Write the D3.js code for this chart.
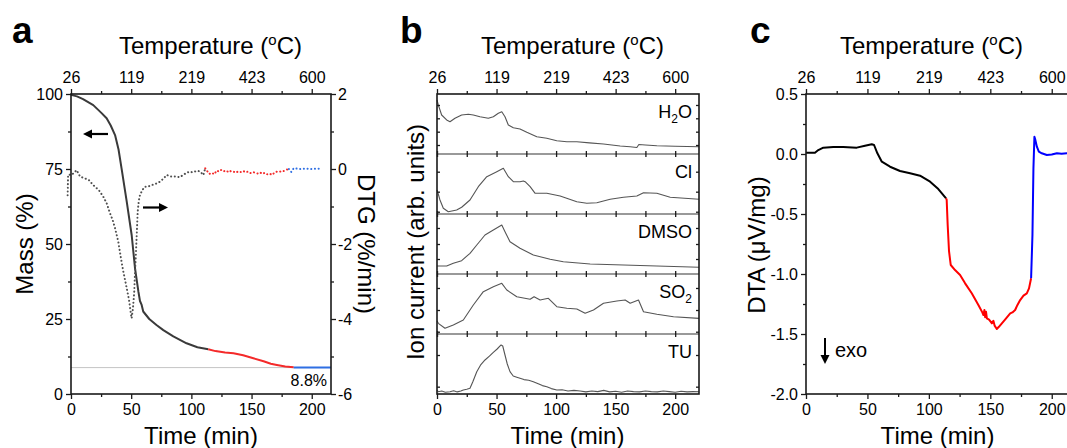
<!DOCTYPE html>
<html><head><meta charset="utf-8">
<script src="https://cdn.jsdelivr.net/npm/d3@7"></script>
<style>
body{margin:0;background:#fff}
svg{display:block}
text{font-family:"Liberation Sans",Arial,Helvetica,sans-serif;fill:#000}
</style>
</head><body>
<svg id="chart" width="1067" height="448"></svg>
<script>
// ---------------- DATA ----------------
const timeTicks = [0, 50, 100, 150, 200];
const timeMinor = [25, 75, 125, 175];
const tempLabels = ["26", "119", "219", "423", "600"];

const massTicks = [0, 25, 50, 75, 100];
const massMinor = [12.5, 37.5, 62.5, 87.5];
const dtgTicks = [-6, -4, -2, 0, 2];
const dtgMinor = [-5, -3, -1, 1];
const dtaTicks = [-2.0, -1.5, -1.0, -0.5, 0.0, 0.5];
const dtaMinor = [-1.75, -1.25, -0.75, -0.25, 0.25];

// Panel a: mass (%)
const massBlackT = [0, 5, 10, 18.5, 25, 29.6, 33, 36.6, 39.5, 42, 46.3, 50.4, 53.2, 56, 57.3, 58.7, 60, 65, 71, 76.7, 85, 96, 105, 114];
const massBlackV = [99.7, 99.2, 98.3, 96.3, 93.8, 91.9, 89.5, 86.3, 81.5, 75.2, 64.1, 53, 41.9, 34.1, 31, 29.7, 27.5, 25, 23, 21.3, 19.2, 16.9, 15.6, 14.9];
const massRedT = [114, 120, 128, 135, 143, 151.5, 160, 166, 171, 178, 185];
const massRedV = [14.9, 14.3, 13.8, 13.6, 12.9, 11.9, 10.9, 10.1, 9.7, 9.2, 8.9];
const massBlueT = [185, 200, 216];
const massBlueV = [8.8, 8.8, 8.8];
const residue = 8.8;

// Panel a: DTG (%/min)
const dtgGrayT = [-2.8, -2.4, 0.5, 2.5, 4.7, 7.5, 11.6, 15, 18.5, 21, 24, 27, 29.6, 32.4, 34.5, 36.6, 39.3, 41.5, 43.5, 46.3, 48.2, 49.9, 50.4, 51.5, 52.5, 53.2, 54, 54.6, 55.4, 56.3, 57.3, 59.5, 61.5, 64, 67, 70, 73.9, 77, 79.5, 83, 87.8, 90, 93.3, 96, 98.9, 101, 104.4, 107, 110, 111.5];
const dtgGrayV = [-0.7, -0.15, -0.16, -0.1, -0.03, -0.2, -0.25, -0.3, -0.43, -0.5, -0.6, -0.75, -0.91, -1.18, -1.35, -1.58, -1.94, -2.38, -2.74, -3.18, -3.49, -3.89, -3.98, -3.7, -3.3, -2.74, -2.2, -1.76, -1.14, -0.85, -0.69, -0.55, -0.47, -0.47, -0.43, -0.4, -0.34, -0.25, -0.16, -0.2, -0.2, -0.22, -0.16, -0.1, -0.07, -0.09, -0.05, -0.06, -0.16, 0.02];
const dtgRedT = [111.5, 113, 115, 117, 119, 121, 123, 125, 127, 129, 131, 133, 135, 137, 139, 141, 143, 145, 147, 149, 151, 153, 155, 157, 159, 161, 163, 165, 167, 169, 171, 173, 175, 177, 179, 181];
const dtgRedV = [0.02, -0.05, -0.13, -0.1, -0.14, -0.04, -0.07, -0.02, -0.06, -0.04, -0.09, -0.05, -0.07, -0.1, -0.06, -0.08, -0.05, -0.09, -0.07, -0.11, -0.08, -0.1, -0.12, -0.09, -0.13, -0.1, -0.14, -0.12, -0.16, -0.1, -0.07, -0.06, -0.08, -0.05, -0.02, 0.0];
const dtgBlueT = [181, 183, 185, 190, 195, 200, 205, 208];
const dtgBlueV = [0.0, -0.08, 0.02, 0.0, 0.01, 0.0, 0.01, 0.0];

// Panel b: ion currents (arb. units, 0-100 per strip)
const ionT_H2O = [0, 1.1, 3.9, 8.1, 10.9, 15.1, 20.7, 26.3, 30.5, 36.1, 43.1, 47.3, 51.5, 54.4, 57.1, 59.9, 64.1, 69.7, 75.4, 83.8, 92.2, 100.6, 109, 117.4, 128, 139.8, 153.8, 162.2, 167.8, 169.5, 175, 184.6, 200, 220];
const ionV_H2O = [90, 81.7, 65, 56.7, 53.8, 59.5, 65, 66.2, 65, 62.2, 59.5, 62.2, 67.8, 70.5, 62.2, 48.3, 43.8, 41.7, 36.2, 28.8, 26.2, 22.2, 20.5, 20.5, 18.5, 16.7, 13.3, 12.2, 10.8, 15.8, 15, 13.8, 12.8, 12.2];
const ionT_Cl = [0, 0.5, 2.5, 5.3, 9.5, 16.5, 20.7, 27.7, 34.7, 41.8, 50.2, 55.7, 59.9, 64.1, 69.7, 72.5, 74, 78.2, 82.4, 92.2, 103.4, 117.4, 125.8, 134.2, 145.4, 156.6, 167.8, 173.4, 184.6, 195.8, 220];
const ionV_Cl = [40, 37.2, 23.3, 9.5, 3.8, 6.7, 11.2, 23.3, 45.5, 62.2, 70.5, 76.2, 62.2, 53.8, 53.8, 55, 53.8, 45.5, 34.5, 34.5, 30, 20.5, 17.8, 18.8, 24.5, 27.8, 30, 35.5, 34.5, 27.8, 24.5];
const ionT_DMSO = [0, 8.1, 13.7, 20.7, 27.7, 33.4, 40.3, 47.3, 54.4, 57.1, 61.3, 69.7, 80.9, 95, 106.1, 128.6, 156.6, 184.6, 220];
const ionV_DMSO = [13.3, 13.3, 17.8, 22.2, 34.5, 48.3, 65, 73.3, 81.7, 70.5, 53.8, 42.8, 31.7, 24.5, 20.5, 16.7, 15, 13.3, 11.2];
const ionT_SO2 = [0, 1.1, 6.7, 13.7, 22.1, 30.5, 38.9, 47.3, 54.4, 58.6, 67, 78.2, 81.5, 86.6, 93.5, 100.6, 109, 117.4, 124.4, 131.4, 139.8, 151, 158, 162.2, 169.2, 173.4, 184.6, 198.6, 220];
const ionV_SO2 = [22, 17.8, 9.5, 15, 23.3, 48.3, 70.5, 78.8, 84.5, 73.3, 62.2, 57.8, 62.2, 56.7, 59.5, 45.5, 42.8, 41.7, 34.5, 40, 51.2, 55, 56.7, 51.2, 56.7, 37.2, 32.8, 28.8, 26];
const ionT_TU = [0, 1.1, 4, 7, 10.9, 14, 17, 20, 22.1, 25, 27.7, 30, 33.4, 36.5, 40.3, 44, 47.3, 50.5, 53.8, 55.2, 57.1, 59, 61.3, 64, 67, 69.7, 73, 77, 80.9, 85, 88.5, 92.2, 96, 100.6, 105, 110, 115, 120.2, 125, 130, 135, 140, 145, 150, 155, 160, 165, 170, 175, 180, 185, 190, 195, 200, 205, 210, 215, 220];
const ionV_TU = [6, 3.8, 5, 3, 3.8, 5.5, 3.5, 5, 6.7, 8, 9.5, 20, 37.2, 48, 56.7, 63, 69.5, 75, 81.7, 80, 65, 50, 37.2, 30, 28, 26.2, 24, 23, 20.5, 17, 14, 12.2, 9, 6.7, 7, 5, 6, 5, 3.5, 5, 4, 6, 3.5, 4.5, 3, 5, 4, 3.5, 5, 4, 3.5, 5, 4, 3, 4.5, 3.5, 4, 3.8];
const ionStripTicks = [[81.7, 59.5, 37.2, 15], [70.5, 37.2, 3.8], [76.7, 50, 25], [76.7, 40, 3.8], [65, 12.2]];

// Panel c: DTA (uV/mg)
const dtaBlackT = [0, 7.3, 10, 14.1, 22.2, 30.3, 41.3, 48, 53.5, 55.4, 58.1, 61.7, 68.4, 76.5, 84.7, 92.8, 101, 107.7, 114];
const dtaBlackV = [0.011, 0.011, 0.033, 0.053, 0.058, 0.058, 0.053, 0.069, 0.081, 0.075, 0.006, -0.064, -0.106, -0.142, -0.161, -0.181, -0.231, -0.292, -0.369];
const dtaRedT = [114, 114.5, 115.3, 116.4, 117.8, 121.3, 125.4, 129.5, 134.9, 140.3, 143.5, 144.4, 145.2, 145.8, 146.5, 147.2, 149, 151.3, 152.5, 153.5, 155.3, 157, 159.4, 162, 166.2, 168, 170.2, 172, 174.3, 177, 179.7, 181.5, 183.2];
const dtaRedV = [-0.369, -0.383, -0.59, -0.81, -0.925, -0.967, -1.008, -1.078, -1.161, -1.258, -1.32, -1.342, -1.3, -1.36, -1.314, -1.369, -1.38, -1.411, -1.39, -1.43, -1.458, -1.44, -1.411, -1.38, -1.328, -1.32, -1.3, -1.26, -1.217, -1.18, -1.161, -1.12, -1.036];
const dtaBlueT = [183.2, 184.3, 185.1, 185.9, 186.6, 187.9, 189.5, 191.9, 196, 200, 204.2, 208, 212.3, 216];
const dtaBlueV = [-1.036, -0.675, -0.119, 0.144, 0.12, 0.061, 0.02, 0.006, -0.008, -0.004, 0.006, 0.002, 0.006, 0.004];

// ---------------- DRAWING ----------------
const svg = d3.select("#chart");
const AX = "#1a1a1a";
const FONT = '"Liberation Sans",Arial,sans-serif';
const zip = (t, v) => t.map((d, i) => [d, v[i]]);

function styleAxis(g, fs) {
  g.select(".domain").remove();
  g.selectAll(".tick line").attr("stroke", AX).attr("stroke-width", 1.3);
  g.selectAll(".tick text").attr("font-size", fs || 16).attr("font-family", FONT).attr("fill", "#000");
}
function addAxis(axisFn, scale, ticks, size, pad, fmt, transform) {
  const g = svg.append("g").attr("transform", transform);
  g.call(axisFn(scale).tickValues(ticks).tickSize(size).tickSizeOuter(0).tickPadding(pad).tickFormat(fmt));
  styleAxis(g);
  return g;
}
const noLab = () => "";
const hyph = f => d => d3.format(f)(d).replace("\u2212", "-");

function tempTitle(x) {
  const t = svg.append("text").attr("x", x).attr("y", 53.5).attr("text-anchor", "middle").attr("font-size", 24);
  t.append("tspan").text("Temperature (");
  t.append("tspan").attr("font-size", 15).attr("dy", -9).text("o");
  t.append("tspan").attr("dy", 9).text("C)");
}
function timeTitle(x) {
  svg.append("text").attr("x", x).attr("y", 444).attr("text-anchor", "middle").attr("font-size", 24).text("Time (min)");
}
function panelLetter(x, s) {
  svg.append("text").attr("x", x).attr("y", 43).attr("font-size", 37).attr("font-weight", "bold").text(s);
}
function timeAxes(x, top, bottom) {
  addAxis(d3.axisTop, x, timeTicks, 5, 6, (d, i) => tempLabels[i], `translate(0,${top})`);
  addAxis(d3.axisTop, x, timeMinor, 3, 6, noLab, `translate(0,${top})`);
  addAxis(d3.axisBottom, x, timeTicks, 5, 5, d3.format("d"), `translate(0,${bottom})`);
  addAxis(d3.axisBottom, x, timeMinor, 3, 5, noLab, `translate(0,${bottom})`);
}
function arrowHead(x, y, dir, len, half) {
  // dir: 'l','r','d'
  let pts;
  if (dir === "l") pts = [[x, y], [x + len, y - half], [x + len, y + half]];
  if (dir === "r") pts = [[x, y], [x - len, y - half], [x - len, y + half]];
  if (dir === "d") pts = [[x, y], [x - half, y - len], [x + half, y - len]];
  svg.append("path").attr("d", d3.line()(pts) + "Z").attr("fill", "#000");
}

// ===== Panel a =====
const xA = d3.scaleLinear([0, 216], [71, 331]);
const yMass = d3.scaleLinear([0, 100], [394, 94]);
const yDtg = d3.scaleLinear([-6, 2], [394, 94]);

svg.append("line").attr("x1", xA(0)).attr("x2", xA(216)).attr("y1", yMass(residue)).attr("y2", yMass(residue))
  .attr("stroke", "#c4c4c4").attr("stroke-width", 1);

const lineA = d3.line().x(d => xA(d[0])).y(d => yMass(d[1]));
[[massBlackT, massBlackV, "#3a3a3a"], [massRedT, massRedV, "#f42a2a"], [massBlueT, massBlueV, "#2f6fe3"]].forEach(([t, v, c]) => {
  svg.append("path").attr("d", lineA(zip(t, v))).attr("fill", "none").attr("stroke", c).attr("stroke-width", 2).attr("stroke-linejoin", "round");
});
const lineD = d3.line().x(d => xA(d[0])).y(d => yDtg(d[1]));
[[dtgGrayT, dtgGrayV, "#505050"], [dtgRedT, dtgRedV, "#f42a2a"], [dtgBlueT, dtgBlueV, "#2f6fe3"]].forEach(([t, v, c]) => {
  svg.append("path").attr("d", lineD(zip(t, v))).attr("fill", "none").attr("stroke", c).attr("stroke-width", 2)
    .attr("stroke-linecap", "round").attr("stroke-dasharray", "0.1,3.6");
});

svg.append("rect").attr("x", 71).attr("y", 94).attr("width", 260).attr("height", 300)
  .attr("fill", "none").attr("stroke", AX).attr("stroke-width", 1.6);
timeAxes(xA, 94, 394);
addAxis(d3.axisLeft, yMass, massTicks, 5, 3, d3.format("d"), "translate(71,0)");
addAxis(d3.axisLeft, yMass, massMinor, 3, 3, noLab, "translate(71,0)");
addAxis(d3.axisRight, yDtg, dtgTicks, 5, 2, hyph("d"), "translate(331,0)");
addAxis(d3.axisRight, yDtg, dtgMinor, 3, 2, noLab, "translate(331,0)");

// arrows
svg.append("line").attr("x1", 108).attr("x2", 90).attr("y1", 134).attr("y2", 134).attr("stroke", "#000").attr("stroke-width", 2.2);
arrowHead(83, 134, "l", 9, 4.5);
svg.append("line").attr("x1", 143).attr("x2", 161).attr("y1", 207.5).attr("y2", 207.5).attr("stroke", "#000").attr("stroke-width", 2.2);
arrowHead(168, 207.5, "r", 9, 4.5);

svg.append("text").attr("x", 327).attr("y", 386).attr("text-anchor", "end").attr("font-size", 16).text("8.8%");

panelLetter(12, "a");
tempTitle(210.5);
timeTitle(201);
svg.append("text").attr("transform", "translate(33,244) rotate(-90)").attr("text-anchor", "middle").attr("font-size", 24).text("Mass (%)");
svg.append("text").attr("transform", "translate(358,244) rotate(90)").attr("text-anchor", "middle").attr("font-size", 24).text("DTG (%/min)");

// ===== Panel b =====
const xB = d3.scaleLinear([0, 220], [437, 699]);
const stripTop = [94, 154, 214, 274, 334];
const stripH = 60;
const ionSeries = [
  [ionT_H2O, ionV_H2O], [ionT_Cl, ionV_Cl], [ionT_DMSO, ionV_DMSO], [ionT_SO2, ionV_SO2], [ionT_TU, ionV_TU]
];
const ionLabels = [["H", "2", "O"], ["Cl"], ["DMSO"], ["SO", "2"], ["TU"]];
ionSeries.forEach(([t, v], i) => {
  const top = stripTop[i];
  const y = d3.scaleLinear([0, 100], [top + stripH, top]);
  svg.append("path").attr("d", d3.line().x(d => xB(d[0])).y(d => y(d[1]))(zip(t, v)))
    .attr("fill", "none").attr("stroke", "#555").attr("stroke-width", 1.1).attr("stroke-linejoin", "round");
  addAxis(d3.axisLeft, y, ionStripTicks[i], -3, 3, noLab, "translate(437,0)");
  addAxis(d3.axisRight, y, ionStripTicks[i], -3, 3, noLab, "translate(699,0)");
  if (i > 0) {
    svg.append("line").attr("x1", 437).attr("x2", 699).attr("y1", top).attr("y2", top).attr("stroke", "#777").attr("stroke-width", 1.3);
    addAxis(d3.axisTop, xB, timeTicks.concat(timeMinor), 3, 3, noLab, `translate(0,${top})`);
    addAxis(d3.axisBottom, xB, timeTicks.concat(timeMinor), 3, 3, noLab, `translate(0,${top})`);
  }
  const lab = ionLabels[i];
  const tx = svg.append("text").attr("x", 692).attr("y", top + 24).attr("text-anchor", "end").attr("font-size", 18);
  tx.append("tspan").text(lab[0]);
  if (lab[1]) tx.append("tspan").attr("font-size", 12).attr("dy", 5).text(lab[1]);
  if (lab[2]) tx.append("tspan").attr("dy", -5).text(lab[2]);
});
svg.append("rect").attr("x", 437).attr("y", 94).attr("width", 262).attr("height", 300)
  .attr("fill", "none").attr("stroke", AX).attr("stroke-width", 1.6);
timeAxes(xB, 94, 394);
panelLetter(400, "b");
tempTitle(572.5);
timeTitle(567.5);
svg.append("text").attr("transform", "translate(424,242) rotate(-90)").attr("text-anchor", "middle").attr("font-size", 24).text("Ion current (arb. units)");

// ===== Panel c =====
const xC = d3.scaleLinear([0, 216], [806, 1071.4]);
const yC = d3.scaleLinear([-2, 0.5], [394, 94]);
const lineC = d3.line().x(d => xC(d[0])).y(d => yC(d[1]));
[[dtaBlackT, dtaBlackV, "#000"], [dtaRedT, dtaRedV, "#ff0000"], [dtaBlueT, dtaBlueV, "#0000ff"]].forEach(([t, v, c]) => {
  svg.append("path").attr("d", lineC(zip(t, v))).attr("fill", "none").attr("stroke", c).attr("stroke-width", 2).attr("stroke-linejoin", "round");
});
svg.append("rect").attr("x", 806).attr("y", 94).attr("width", 265.4).attr("height", 300)
  .attr("fill", "none").attr("stroke", AX).attr("stroke-width", 1.6);
timeAxes(xC, 94, 394);
addAxis(d3.axisLeft, yC, dtaTicks, 5, 3, hyph(".1f"), "translate(806,0)");
addAxis(d3.axisLeft, yC, dtaMinor, 3, 3, noLab, "translate(806,0)");

svg.append("line").attr("x1", 825).attr("x2", 825).attr("y1", 338).attr("y2", 356).attr("stroke", "#000").attr("stroke-width", 2);
arrowHead(825, 364, "d", 9, 4.5);
svg.append("text").attr("x", 835).attr("y", 357).attr("font-size", 20).text("exo");

panelLetter(750, "c");
tempTitle(931.5);
timeTitle(937.5);
svg.append("text").attr("transform", "translate(765,245) rotate(-90)").attr("text-anchor", "middle").attr("font-size", 24).text("DTA (\u03bcV/mg)");
</script>
</body></html>
